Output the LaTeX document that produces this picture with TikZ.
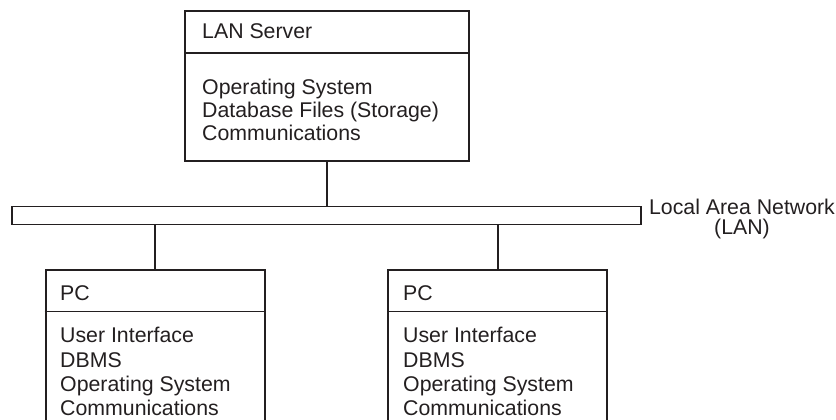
\documentclass[tikz,border=0pt]{standalone}
\usepackage{fontspec}
\setmainfont{Liberation Sans}
\definecolor{ink}{RGB}{35,31,32}
\begin{document}
\begin{tikzpicture}[x=1pt,y=-1pt,
  box/.style={draw=ink,line width=1.8pt,rectangle,inner sep=0pt,anchor=north west},
  wire/.style={draw=ink,line width=1.8pt},
  txt/.style={inner sep=0pt,anchor=base west,text=ink,font=\fontsize{21.3}{23}\selectfont}]
\useasboundingbox (0,0) rectangle (836,420);
% server
\node[box,minimum width=284pt,minimum height=150pt] (srv) at (184,10) {};
\coordinate (srvdl) at (184,52.7);
\coordinate (srvdr) at (468,52.7);
\draw[wire] (srvdl) -- (srvdr);
\node[txt] (srvt) at (202,38.3) {LAN Server};
\node[txt] (srv1) at (202,94.3) {Operating System};
\node[txt] (srv2) at (202,117.3) {Database Files (Storage)};
\node[txt] (srv3) at (202,140.3) {Communications};
% LAN bar
\node[box,minimum width=629pt,minimum height=18pt] (lan) at (11,205.5) {};
\node[txt,anchor=base,align=center,font=\fontsize{21.3}{19.5}\selectfont] (lant) at (742,234) {Local Area Network\\(LAN)};
% PCs
\node[box,minimum width=219pt,minimum height=200pt] (pc1) at (44.7,269) {};
\node[box,minimum width=219pt,minimum height=200pt] (pc2) at (387.3,269) {};
\coordinate (p1dl) at (44.7,311.5);
\coordinate (p1dr) at (263.7,311.5);
\coordinate (p2dl) at (387.3,311.5);
\coordinate (p2dr) at (606.3,311.5);
\draw[wire] (p1dl) -- (p1dr);
\draw[wire] (p2dl) -- (p2dr);
\node[txt] (pc1t) at (60,300) {PC};
\node[txt] (pc1a) at (60,342.7) {User Interface};
\node[txt] (pc1b) at (60,367) {DBMS};
\node[txt] (pc1c) at (60,391.3) {Operating System};
\node[txt] (pc1d) at (60,415.6) {Communications};
\node[txt] (pc2t) at (403,300) {PC};
\node[txt] (pc2a) at (403,342.7) {User Interface};
\node[txt] (pc2b) at (403,367) {DBMS};
\node[txt] (pc2c) at (403,391.3) {Operating System};
\node[txt] (pc2d) at (403,415.6) {Communications};
% connectors
\draw[wire] (srv.south) -- (lan.north -| srv.south);
\draw[wire] (lan.south -| pc1.north) -- (pc1.north);
\draw[wire] (lan.south -| pc2.north) -- (pc2.north);
\end{tikzpicture}
\end{document}
